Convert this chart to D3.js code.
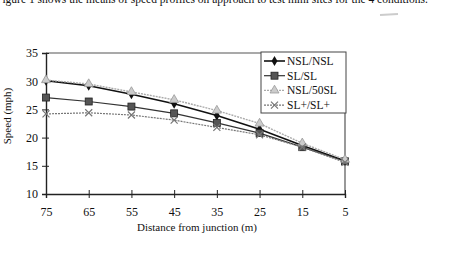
<!DOCTYPE html>
<html>
<head>
<meta charset="utf-8">
<script src="https://cdn.jsdelivr.net/npm/d3@7"></script>
<style>
  body { margin: 0; background: #fff; }
  svg text { font-family: "Liberation Serif", "DejaVu Serif", serif; fill: #111; }
</style>
</head>
<body>
<svg id="board" width="463" height="254"></svg>
<script>
// distance from junction (m), read left to right
const distances = [75, 65, 55, 45, 35, 25, 15, 5];
const seriesNames = ["NSL/NSL", "SL/SL", "NSL/50SL", "SL+/SL+"];
const nslNsl   = [30.1, 29.2, 27.7, 26.0, 23.9, 21.5, 18.6, 15.9];
const slSl     = [27.1, 26.4, 25.5, 24.3, 22.6, 20.8, 18.3, 15.8];
const nsl50sl  = [30.2, 29.5, 28.1, 26.7, 24.8, 22.5, 19.0, 16.1];
const slPlus   = [24.2, 24.4, 24.0, 23.1, 21.8, 20.5, 18.3, 15.6];
const yTicks = [10, 15, 20, 25, 30, 35];

const svg = d3.select("#board");
const plotLeft = 46, plotRight = 345, plotTop = 53, plotBottom = 194;

const x = d3.scalePoint().domain(distances).range([plotLeft, plotRight]);
const y = d3.scaleLinear().domain([10, 35]).range([plotBottom, plotTop]);

// scanned page text above the figure, cut off at top like the scan
svg.append("text")
  .attr("x", -4).attr("y", 3)
  .attr("font-size", 11.5)
  .text("Figure 1 shows the means of speed profiles on approach to test mini sites for the 4 conditions.");
svg.append("line")
  .attr("x1", 380).attr("x2", 398).attr("y1", 15).attr("y2", 14)
  .attr("stroke", "#ccc").attr("stroke-width", 2);

// plot frame (top and right)
svg.append("path")
  .attr("d", `M${plotLeft},${plotTop}H${plotRight}V${plotBottom}`)
  .attr("fill", "none").attr("stroke", "#555").attr("stroke-width", 1.2);

const yAxis = svg.append("g")
  .attr("transform", `translate(${plotLeft},0)`)
  .call(d3.axisLeft(y).tickValues(yTicks).tickSize(4).tickPadding(4));
yAxis.select(".domain").attr("stroke", "#222").attr("stroke-width", 1.4);
yAxis.selectAll(".tick line").attr("x1", -4).attr("x2", 3).attr("stroke", "#222");
yAxis.selectAll("text").attr("font-size", 12).style("font-family", "Liberation Serif");

const xAxis = svg.append("g")
  .attr("transform", `translate(0,${plotBottom})`)
  .call(d3.axisBottom(x).tickSize(4).tickPadding(9));
xAxis.select(".domain").attr("stroke", "#222").attr("stroke-width", 1.4);
xAxis.selectAll(".tick line").attr("y1", -4).attr("y2", 4).attr("stroke", "#222");
xAxis.selectAll("text").attr("font-size", 12).style("font-family", "Liberation Serif");

svg.append("text")
  .attr("x", 197).attr("y", 231)
  .attr("text-anchor", "middle").attr("font-size", 11)
  .text("Distance from  junction (m)");
svg.append("text")
  .attr("transform", "translate(11,116) rotate(-90)")
  .attr("text-anchor", "middle").attr("font-size", 11)
  .text("Speed (mph)");

const series = [
  { name: seriesNames[0], values: nslNsl,  color: "#111", width: 1.6, marker: "diamond", dash: null },
  { name: seriesNames[1], values: slSl,    color: "#333", width: 1.2, marker: "square",  dash: null },
  { name: seriesNames[2], values: nsl50sl, color: "#aaa", width: 1.4, marker: "triangle", dash: "2,1" },
  { name: seriesNames[3], values: slPlus,  color: "#777", width: 1.2, marker: "cross",   dash: "2,1" }
];

const line = d3.line().x((d, i) => x(distances[i])).y(d => y(d));

function drawMarker(g, kind, color) {
  if (kind === "diamond") {
    g.append("path").attr("d", d3.symbol(d3.symbolDiamond, 30)()).attr("fill", color);
  } else if (kind === "square") {
    g.append("rect").attr("x", -3.5).attr("y", -3.5).attr("width", 7).attr("height", 7)
      .attr("fill", "#555").attr("stroke", "#222").attr("stroke-width", 0.8);
  } else if (kind === "triangle") {
    g.append("path").attr("d", d3.symbol(d3.symbolTriangle, 35)())
      .attr("fill", "#ccc").attr("stroke", "#999").attr("stroke-width", 0.8);
  } else {
    g.append("path").attr("d", "M-3.5,-3.5L3.5,3.5M-3.5,3.5L3.5,-3.5")
      .attr("stroke", color).attr("stroke-width", 1.2);
  }
}

series.forEach(function(s) {
  svg.append("path")
    .datum(s.values)
    .attr("d", line)
    .attr("fill", "none")
    .attr("stroke", s.color)
    .attr("stroke-width", s.width)
    .attr("stroke-dasharray", s.dash);
  svg.selectAll(null)
    .data(s.values)
    .enter()
    .append("g")
    .attr("transform", (d, i) => `translate(${x(distances[i])},${y(d)})`)
    .each(function() { drawMarker(d3.select(this), s.marker, s.color); });
});

// legend
const legend = svg.append("g");
legend.append("rect")
  .attr("x", 261).attr("y", 52).attr("width", 85).attr("height", 61)
  .attr("fill", "#fff").attr("stroke", "#444").attr("stroke-width", 1);
series.forEach(function(s, i) {
  const ly = 61 + i * 14.7;
  legend.append("line")
    .attr("x1", 264).attr("x2", 285).attr("y1", ly).attr("y2", ly)
    .attr("stroke", s.color).attr("stroke-width", s.width)
    .attr("stroke-dasharray", s.dash);
  const m = legend.append("g").attr("transform", `translate(274.5,${ly})`);
  drawMarker(m, s.marker, s.color);
  legend.append("text")
    .attr("x", 287).attr("y", ly + 4)
    .attr("font-size", 11.5)
    .text(s.name);
});
</script>
</body>
</html>
